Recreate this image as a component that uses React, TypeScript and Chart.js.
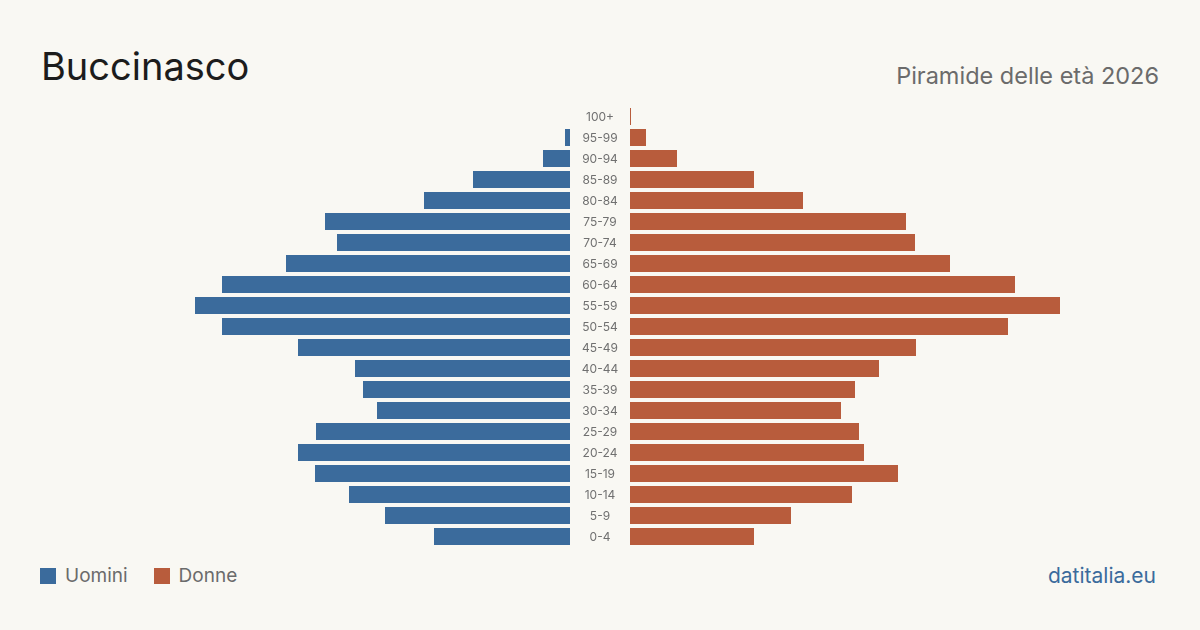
import React, { useEffect, useRef } from "react";
import { Chart, registerables } from "chart.js";

Chart.register(...registerables);

const ageGroups = [
  "100+", "95-99", "90-94", "85-89", "80-84", "75-79", "70-74", "65-69", "60-64", "55-59",
  "50-54", "45-49", "40-44", "35-39", "30-34", "25-29", "20-24", "15-19", "10-14", "5-9", "0-4",
];
const men = [0, 15, 81, 291, 438, 735, 699, 852, 1044, 1125, 1044, 816, 645, 621, 579, 762, 816, 765, 663, 555, 408];
const women = [3, 48, 141, 372, 519, 828, 855, 960, 1155, 1290, 1134, 858, 747, 675, 633, 687, 702, 804, 666, 483, 372];
const axisMax = 1590;

const BLUE = "#3b6b9c";
const ORANGE = "#b85c3c";
const BG = "#f9f8f3";
const FONT = "Inter, 'Noto Sans', sans-serif";

const centerLabels = {
  id: "centerLabels",
  afterDraw(chart: any) {
    const ctx = chart.ctx;
    const y = chart.scales.y;
    const x = chart.chartArea.left - 30;
    ctx.save();
    ctx.fillStyle = "#707070";
    ctx.font = `12px ${FONT}`;
    ctx.textAlign = "center";
    ctx.textBaseline = "middle";
    (chart.data.labels as string[]).forEach((lab, i) => {
      ctx.fillText(lab, x, y.getPixelForValue(i) + 1);
    });
    ctx.restore();
  },
};

export default function App() {
  const leftRef = useRef<HTMLCanvasElement>(null);
  const rightRef = useRef<HTMLCanvasElement>(null);

  useEffect(() => {
    const left = new Chart(leftRef.current!, {
      type: "bar",
      data: {
        labels: ageGroups,
        datasets: [{ label: "Uomini", data: men, backgroundColor: BLUE, barThickness: 17, inflateAmount: 0 }],
      },
      options: {
        indexAxis: "y",
        animation: false,
        responsive: false,
        layout: { padding: 0 },
        plugins: { legend: { display: false }, tooltip: { enabled: false } },
        scales: {
          x: { display: false, reverse: true, min: 0, max: axisMax },
          y: { display: false },
        },
      },
    });
    const right = new Chart(rightRef.current!, {
      type: "bar",
      data: {
        labels: ageGroups,
        datasets: [{ label: "Donne", data: women, backgroundColor: ORANGE, barThickness: 17, inflateAmount: 0 }],
      },
      options: {
        indexAxis: "y",
        animation: false,
        responsive: false,
        layout: { padding: { left: 60, right: 0, top: 0, bottom: 0 } },
        plugins: { legend: { display: false }, tooltip: { enabled: false } },
        scales: {
          x: { display: false, min: 0, max: axisMax },
          y: { display: false },
        },
      },
      plugins: [centerLabels],
    });
    return () => {
      left.destroy();
      right.destroy();
    };
  }, []);

  return (
    <div
      style={{
        position: "fixed",
        left: 0,
        top: 0,
        width: 1200,
        height: 630,
        background: BG,
        fontFamily: FONT,
        overflow: "hidden",
      }}
    >
      <div style={{ position: "absolute", left: 41, top: 40, fontSize: 38, color: "#1c1c1c", lineHeight: "52px" }}>
        Buccinasco
      </div>
      <div style={{ position: "absolute", right: 41, top: 61, fontSize: 23.5, color: "#6b6b6b", lineHeight: "30px" }}>
        Piramide delle età 2026
      </div>
      <canvas ref={leftRef} width={530} height={441} style={{ position: "absolute", left: 40, top: 106 }} />
      <canvas ref={rightRef} width={590} height={441} style={{ position: "absolute", left: 570, top: 106 }} />
      <div style={{ position: "absolute", left: 40, top: 564, display: "flex", alignItems: "center", fontSize: 19, color: "#6b6b6b", lineHeight: "24px" }}>
        <span style={{ width: 16, height: 16, background: BLUE, display: "inline-block", marginRight: 9 }} />
        <span style={{ marginRight: 26 }}>Uomini</span>
        <span style={{ width: 16, height: 16, background: ORANGE, display: "inline-block", marginRight: 9 }} />
        <span>Donne</span>
      </div>
      <div style={{ position: "absolute", right: 44, top: 562, fontSize: 21, color: BLUE, lineHeight: "28px" }}>
        datitalia.eu
      </div>
    </div>
  );
}
